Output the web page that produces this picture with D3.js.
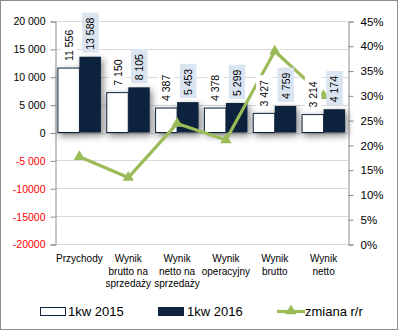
<!DOCTYPE html>
<html>
<head>
<meta charset="utf-8">
<script src="https://cdn.jsdelivr.net/npm/d3@7"></script>
<style>
body { margin: 0; background: #fff; }
svg { font-family: "Liberation Sans", Arial, sans-serif; }
</style>
</head>
<body>
<div id="chart"></div>
<script>
// categories and series
var categories = [["Przychody"], ["Wynik", "brutto na", "sprzedaży"], ["Wynik", "netto na", "sprzedaży"],
                  ["Wynik", "operacyjny"], ["Wynik", "brutto"], ["Wynik", "netto"]];
var q2015 = [11556, 7150, 4387, 4378, 3427, 3214];
var q2016 = [13588, 8105, 5453, 5299, 4759, 4174];
var zmiana = [17.6, 13.4, 24.3, 21.0, 38.9, 29.9];
var leftTicks = [20000, 15000, 10000, 5000, 0, -5000, -10000, -15000, -20000];
var leftTickLabels = ["20 000", "15 000", "10 000", "5 000", "0", "-5 000", "-10000", "-15000", "-20000"];
var rightTicks = [0, 5, 10, 15, 20, 25, 30, 35, 40, 45];
var seriesNames = ["1kw 2015", "1kw 2016", "zmiana r/r"];

var W = 398, H = 330;
var plotL = 55, plotR = 348, plotT = 21, plotB = 244;

var svg = d3.select("#chart").append("svg")
    .attr("width", W).attr("height", H);

var defs = svg.append("defs");
var f = defs.append("filter").attr("id", "shadow")
    .attr("x", "-50%").attr("y", "-50%").attr("width", "200%").attr("height", "200%");
f.append("feDropShadow").attr("dx", 2).attr("dy", 3).attr("stdDeviation", 3.5)
    .attr("flood-color", "#000").attr("flood-opacity", 0.5);

// border
svg.append("rect").attr("x", 0.5).attr("y", 0.5).attr("width", W - 1).attr("height", H - 1)
    .attr("fill", "#fff").attr("stroke", "#8c8c8c");

var x = d3.scaleBand().domain(d3.range(categories.length)).range([plotL, plotR]);
var y = d3.scaleLinear().domain([-20000, 20000]).range([plotB, plotT]);
var yR = d3.scaleLinear().domain([0, 45]).range([plotB, plotT]);

// gridlines
svg.append("g").selectAll("line").data(leftTicks).enter().append("line")
    .attr("x1", plotL).attr("x2", plotR)
    .attr("y1", function(d) { return Math.round(y(d)) + 0.5; })
    .attr("y2", function(d) { return Math.round(y(d)) + 0.5; })
    .attr("stroke", "#d9d9d9");

// left axis
var yAxis = d3.axisLeft(y).tickValues(leftTicks).tickSize(5)
    .tickFormat(function(d, i) { return leftTickLabels[i]; });
var gL = svg.append("g").attr("transform", "translate(" + (plotL + 0.5) + ",0.5)").call(yAxis);
gL.select(".domain").attr("stroke", "#8c8c8c");
gL.selectAll(".tick line").attr("stroke", "#8c8c8c");
gL.selectAll(".tick text").attr("x", -10).attr("font-size", 10.5)
    .attr("font-family", "Liberation Sans, Arial, sans-serif")
    .attr("fill", function(d) { return d < 0 ? "#ff0000" : "#000"; });

// right axis
var yAxisR = d3.axisRight(yR).tickValues(rightTicks).tickSize(5)
    .tickFormat(function(d) { return d + "%"; });
var gR = svg.append("g").attr("transform", "translate(" + (plotR + 0.5) + ",0.5)").call(yAxisR);
gR.select(".domain").attr("stroke", "#8c8c8c");
gR.selectAll(".tick line").attr("stroke", "#8c8c8c");
gR.selectAll(".tick text").attr("x", 12).attr("font-size", 11.5)
    .attr("font-family", "Liberation Sans, Arial, sans-serif").attr("fill", "#000");

var barW = 21.5;
var cx = function(i) { return x(i) + x.bandwidth() / 2; };

// bars
var bars = svg.append("g").attr("filter", "url(#shadow)");
bars.selectAll(".b15").data(q2015).enter().append("rect")
    .attr("x", function(d, i) { return cx(i) - barW; })
    .attr("y", function(d) { return y(d); })
    .attr("width", barW)
    .attr("height", function(d) { return y(0) - y(d); })
    .attr("fill", "#fff").attr("stroke", "#10243e").attr("stroke-width", 1);
bars.selectAll(".b16").data(q2016).enter().append("rect")
    .attr("x", function(d, i) { return cx(i); })
    .attr("y", function(d) { return y(d); })
    .attr("width", barW)
    .attr("height", function(d) { return y(0) - y(d); })
    .attr("fill", "#10243e");

// line
var line = d3.line().x(function(d, i) { return cx(i); }).y(function(d) { return yR(d); });
svg.append("path").attr("d", line(zmiana)).attr("fill", "none")
    .attr("stroke", "#9bbb59").attr("stroke-width", 3.2).attr("stroke-linejoin", "round");
var tri = d3.symbol().type(d3.symbolTriangle).size(55);
svg.append("g").selectAll("path").data(zmiana).enter().append("path")
    .attr("d", tri)
    .attr("transform", function(d, i) { return "translate(" + cx(i) + "," + yR(d) + ")"; })
    .attr("fill", "#9bbb59");

// data labels
function fmt(v) { return String(v).replace(/\B(?=(\d{3})+(?!\d))/g, " "); }
function labels(data, off, bg) {
    var g = svg.append("g");
    data.forEach(function(v, i) {
        var lx = cx(i) + off;
        var ly = y(v) - 7;
        var t = g.append("text").attr("transform", "translate(" + (lx + 4) + "," + ly + ") rotate(-90)")
            .attr("font-size", 10.5).attr("fill", "#000").text(fmt(v));
        var len = t.node().getComputedTextLength();
        g.insert("rect", "text").attr("x", lx - 8).attr("y", ly - len - 5)
            .attr("width", 16.5).attr("height", len + 8).attr("fill", bg);
    });
}
labels(q2015, -barW / 2, "#ffffff");
labels(q2016, barW / 2, "#dbe5f1");

// category labels
var cat = svg.append("g");
categories.forEach(function(lines, i) {
    var t = cat.append("text").attr("text-anchor", "middle").attr("font-size", 10).attr("fill", "#000");
    lines.forEach(function(s, j) {
        t.append("tspan").attr("x", cx(i)).attr("y", 262 + j * 12.5).text(s);
    });
});

// legend
var lg = svg.append("g").attr("font-size", 13).attr("fill", "#000");
lg.append("rect").attr("x", 40.5).attr("y", 307.5).attr("width", 25).attr("height", 8)
    .attr("fill", "#fff").attr("stroke", "#10243e");
lg.append("text").attr("x", 68).attr("y", 316).text(seriesNames[0]);
lg.append("rect").attr("x", 158).attr("y", 307).attr("width", 26).attr("height", 9).attr("fill", "#10243e");
lg.append("text").attr("x", 187).attr("y", 316).text(seriesNames[1]);
lg.append("line").attr("x1", 277).attr("x2", 305).attr("y1", 311.5).attr("y2", 311.5)
    .attr("stroke", "#9bbb59").attr("stroke-width", 3.2);
lg.append("path").attr("d", tri).attr("transform", "translate(291,311)").attr("fill", "#9bbb59");
lg.append("text").attr("x", 305).attr("y", 316).text(seriesNames[2]);
</script>
</body>
</html>
